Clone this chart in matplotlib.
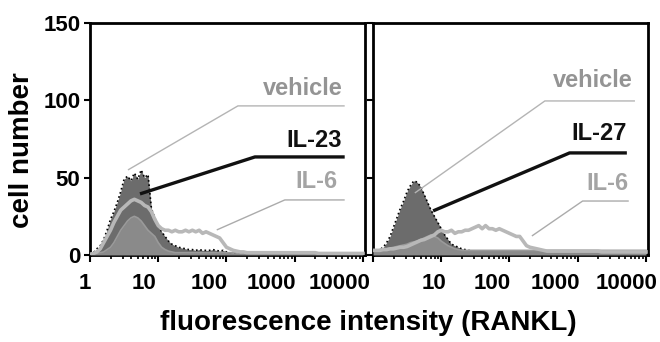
import numpy as np
import matplotlib
matplotlib.use('Agg')
import matplotlib.pyplot as plt
import matplotlib.transforms as mtransforms
from matplotlib.ticker import LogLocator, NullFormatter

plt.rcParams['font.family'] = ['Liberation Sans', 'DejaVu Sans']
plt.rcParams['font.weight'] = 'bold'

# channel grid, log10 of fluorescence (0.05 steps from 1 to 10000)
log_bins = np.arange(0, 4.001, 0.05)

# left panel: vehicle / IL-23 / IL-6
left_il23 = [0.5, 1.5, 4, 6, 10, 16, 23, 28, 34, 41,
             49, 51, 48, 53, 49, 55, 50, 52, 30, 24,
             19, 15, 12, 9, 7, 6, 5, 4.5, 4, 3.5,
             3.5, 3, 3.5, 3, 3, 3, 3.5, 3, 2.5, 3,
             2, 1.5, 1, 1, 0.8, 0.5, 0.5, 0.5, 0.5, 0.5,
             0.5, 0.5, 0.5, 0.5, 0.5, 0.5, 0.5, 0.5, 0.5, 0.5,
             0.5, 0.5, 0.5, 0.5, 1.5, 1.5, 0.5, 0.5, 0.5, 0.5,
             0.5, 0.5, 0.5, 0.5, 0.5, 0.5, 0.5, 0.5, 1.5, 0.5,
             0.5]
left_vehicle = [0.5, 1, 2, 4, 8, 12, 16, 21, 25, 29,
                31, 33, 35, 36, 35, 34, 32, 31, 28, 23,
                19, 17, 16, 16, 15, 16, 15, 15, 16, 15,
                16, 15, 16, 14, 15, 14, 13, 12, 11, 8,
                5, 4, 3, 2.5, 2, 2, 1.5, 1.5, 1.5, 1.5,
                1.5, 1.5, 1.5, 1.5, 1.5, 1.5, 1.5, 1.5, 1.5, 1.5,
                1.5, 1.5, 1.5, 1.5, 1.5, 1.5, 1.5, 1, 1, 1,
                1, 1, 1, 1, 1, 1, 1, 1, 1, 1,
                1]
left_il6 = [0.5, 1, 1, 1.5, 2, 3.5, 5, 8, 12, 16,
            19, 22, 24, 25, 24, 22, 19, 16, 14, 12,
            8, 5, 3.5, 2.5, 2, 1.5, 1.5, 1.5, 1.5, 1.5,
            1.5, 1.5, 1.5, 1.5, 1.5, 1.5, 1.5, 1.5, 1.5, 1.5,
            1.5, 1.5, 1.5, 1.5, 1.5, 1.5, 1.5, 1, 1, 1,
            1, 1, 1, 1, 1, 1, 1, 1, 1, 1,
            1, 1, 1, 1, 1, 1, 1, 1, 1, 1,
            1, 1, 1, 1, 1, 1, 1, 1, 1, 1,
            1]

# right panel: vehicle / IL-27 / IL-6
right_il27 = [2, 2.5, 3.5, 5, 8, 12, 18, 24, 30, 35,
              41, 45, 48, 47, 44, 39, 34, 29, 25, 21,
              17, 13, 10, 7, 6, 5, 4, 3.5, 3, 2.5,
              2, 2, 2, 2, 2, 2, 2, 2, 2, 2,
              2, 2, 2, 2, 2, 2, 2, 2, 2, 2,
              2, 2, 2, 2, 2, 2, 2, 2, 2, 2,
              2, 2, 2, 2, 2, 2, 2, 2, 2, 2,
              2, 2, 2, 2, 2, 2, 2, 2, 2, 2,
              2]
right_vehicle = [3, 3, 3, 3.5, 3.5, 4, 4, 4.5, 5, 5,
                 5.5, 6.5, 7.5, 8.5, 9.5, 10, 11, 12, 13, 15,
                 16, 15, 15, 16, 14, 15, 15, 16, 16, 17,
                 18, 19, 17, 19, 17, 17, 16, 17, 16, 15,
                 14, 13, 12, 12, 9, 6, 5, 4.5, 4, 3.5,
                 3, 2.5, 2.5, 2.5, 2.5, 2.5, 2.5, 2.5, 2.5, 2.5,
                 2.5, 2.5, 2.5, 2.5, 2.5, 2.5, 2.5, 2, 2, 2,
                 2, 2, 2, 2, 2, 2, 2, 2, 2, 2,
                 2]
right_il6 = [3, 3, 3.5, 4, 4, 4.5, 5, 5.5, 6, 6.5,
             7, 8, 8.5, 9, 10, 11, 12, 13, 12, 11,
             9, 7.5, 6, 5, 4, 3.5, 3, 3, 3, 3,
             3, 3, 3, 3, 3, 3, 3, 3, 3, 3,
             3, 3, 3, 3, 3, 3, 3, 3, 3, 3,
             3, 3, 3, 3, 3, 3, 3, 3, 3, 3,
             3, 3, 3, 3, 3, 3, 3, 3, 3, 3,
             3, 3, 3, 3, 3, 3, 3, 3, 3, 3,
             3]

# label text and leader lines: (label, text x, text y, line path xs, line path ys)
left_labels = [
    ('vehicle', 5050, 103.5, [5400, 147, 3.6], [96.4, 96.4, 55]),
    ('IL-23', 4900, 70, [5400, 261, 5.4], [63.4, 63.4, 39.5]),
    ('IL-6', 4270, 43.3, [5400, 715, 72], [35.6, 35.6, 16.2]),
]
right_labels = [
    ('vehicle', 6450, 108.7, [6900, 330, 4.1], [99.6, 99.6, 40.1]),
    ('IL-27', 5250, 74.4, [5250, 760, 7.6], [66, 66, 28.5]),
    ('IL-6', 5600, 42, [5600, 1180, 213], [34.9, 34.9, 12.3]),
]
xtick_vals = [1, 10, 100, 1000, 10000]
xtick_text = ['1', '10', '100', '1000', '10000']

c_dark = '#6c6c6c'
c_mid = '#8a8a8a'
c_light = '#b8b8b8'
label_colors = ['#949494', '#111111', '#a4a4a4']
line_styles = [('#b4b4b4', 1.0), ('#111111', 2.4), ('#ababab', 1.0)]

fig = plt.figure(figsize=(6.6, 3.42), dpi=100)
ax1 = fig.add_axes([90 / 660, 1 - 255 / 342, 275 / 660, 232 / 342])
ax2 = fig.add_axes([373 / 660, 1 - 255 / 342, 275 / 660, 232 / 342])

x = 10 ** log_bins


def draw_panel(ax, dark, vehicle, il6, labels, show_ylabels, label_dx):
    ax.fill_between(x, 0, dark, color=c_dark, lw=0, zorder=2)
    ax.plot(x, dark, color='black', lw=1.2, ls=(0, (1, 1.6)), zorder=3)
    ax.fill_between(x, 0, il6, color=c_mid, lw=0, zorder=4)
    ax.plot(x, vehicle, color=c_light, lw=2.6, zorder=5)
    ax.plot(x, il6, color='#9a9a9a', lw=1.2, zorder=4)
    for i, (txt, tx, ty, lx, ly) in enumerate(labels):
        ax.text(tx, ty, txt, ha='right', va='baseline', fontsize=17,
                fontweight='bold', color=label_colors[i], zorder=6)
        col, lw = line_styles[i]
        ax.plot(lx, ly, color=col, lw=lw, zorder=6, solid_capstyle='butt')
    ax.set_xscale('log')
    ax.set_xlim(1, 10 ** 4.03)
    ax.set_ylim(0, 150)
    ax.set_yticks([0, 50, 100, 150])
    if show_ylabels:
        ax.set_yticklabels(['0', '50', '100', '150'], fontsize=16, fontweight='bold')
    else:
        ax.set_yticklabels([])
    ax.tick_params(axis='y', direction='out', length=4, width=1.5, pad=3)
    ax.set_xticks(xtick_vals)
    ax.xaxis.set_minor_locator(LogLocator(base=10, subs=np.arange(2, 10), numticks=20))
    ax.xaxis.set_minor_formatter(NullFormatter())
    ax.set_xticklabels(xtick_text, fontsize=16, fontweight='bold')
    ax.tick_params(axis='x', which='major', direction='out', length=5, width=1.5, pad=8)
    ax.tick_params(axis='x', which='minor', direction='out', length=3, width=1.2)
    for sp in ax.spines.values():
        sp.set_linewidth(2.0)
    for lab, dx in zip(ax.get_xticklabels(), label_dx):
        lab.set_transform(lab.get_transform() +
                          mtransforms.ScaledTranslation(dx / 100, 0, fig.dpi_scale_trans))


draw_panel(ax1, left_il23, left_vehicle, left_il6, left_labels, True, [-5, -14, -17, -23, -23])
draw_panel(ax2, right_il27, right_vehicle, right_il6, right_labels, False, [0, -7, -17, -22, -19])
ax2.get_xticklabels()[0].set_visible(False)

fig.text(22 / 660, 1 - 150 / 342, 'cell number', rotation=90, ha='center', va='center',
         fontsize=20, fontweight='bold')
fig.text(368 / 660, 1 - 323 / 342, 'fluorescence intensity (RANKL)', ha='center', va='center',
         fontsize=20, fontweight='bold')

fig.savefig('out.png', dpi=100)
